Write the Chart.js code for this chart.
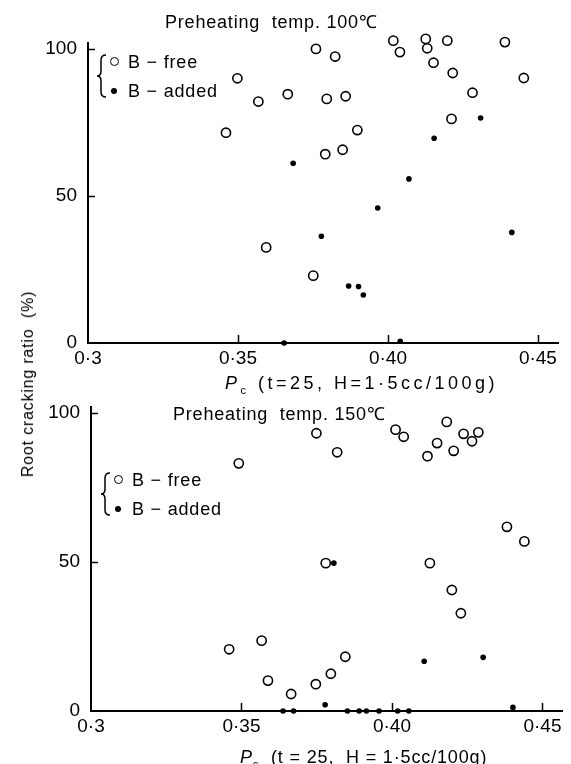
<!DOCTYPE html>
<html><head><meta charset="utf-8">
<script src="https://cdn.jsdelivr.net/npm/chart.js@4/dist/chart.umd.min.js"></script>
<style>
html,body{margin:0;padding:0;background:#fff;}
body{width:571px;height:764px;position:relative;overflow:hidden;font-family:"Liberation Sans",Arial,sans-serif;color:#000;}
canvas{position:absolute;left:0;}
.t{position:absolute;white-space:nowrap;font-size:18px;line-height:1;letter-spacing:0.8px;}
.xt{letter-spacing:3.5px;}
.mk{display:inline-block;width:7px;height:7px;border:1.6px solid #000;border-radius:50%;box-sizing:content-box;vertical-align:middle;margin-right:9px;}
.mk.f{width:6px;height:6px;border:none;background:#000;margin-left:1px;margin-right:11px;}
.row{height:29px;display:flex;align-items:center;}
</style></head><body>
<canvas id="c1" width="571" height="382" style="top:0"></canvas>
<canvas id="c2" width="571" height="382" style="top:382px"></canvas>

<div class="t" style="left:165px;top:13px;">Preheating&nbsp; temp. 100℃</div>
<div class="t" style="left:173px;top:405px;">Preheating&nbsp; temp. 150℃</div>

<div class="t xt" style="left:225px;top:374px;"><i>P</i><sub style="font-size:11px">c</sub>&nbsp;(t=25,&nbsp;H=1·5cc/100g)</div>
<div class="t" style="left:240px;top:748px;letter-spacing:0.85px;"><i>P</i><sub style="font-size:11px">c</sub>&nbsp; (t = 25,&nbsp; H = 1·5cc/100g)</div>

<div class="t" style="left:28px;top:384px;font-size:16px;transform:translate(-50%,-50%) rotate(-90deg);">Root cracking ratio&nbsp; (%)</div>

<svg style="position:absolute;left:96px;top:53px" width="14" height="46"><path d="M10 2 Q5 2 5 7 L5 18 Q5 23 1 23 Q5 23 5 28 L5 39 Q5 44 10 44" fill="none" stroke="#000" stroke-width="1.5"/></svg>
<div class="t" style="left:110px;top:47px;">
<div class="row"><span class="mk"></span>B − free</div>
<div class="row"><span class="mk f"></span>B − added</div>
</div>
<svg style="position:absolute;left:100px;top:471px" width="14" height="46"><path d="M10 2 Q5 2 5 7 L5 18 Q5 23 1 23 Q5 23 5 28 L5 39 Q5 44 10 44" fill="none" stroke="#000" stroke-width="1.5"/></svg>
<div class="t" style="left:114px;top:465px;">
<div class="row"><span class="mk"></span>B − free</div>
<div class="row"><span class="mk f"></span>B − added</div>
</div>

<script>
// ---- data ----
const xTickValues = [0.30, 0.35, 0.40, 0.45];
const xTickLabels = ['0·3', '0·35', '0·40', '0·45'];
const yTickValues = [0, 50, 100];
const yTickLabels = ['0', '50', '100'];

// Preheating 100 °C
const t100FreeX = [0.376,0.3824,0.4018,0.404,0.4126,0.4131,0.4198,0.439,0.4152,0.4216,0.3498,0.4453,0.3568,0.3666,0.3796,0.3859,0.4282,0.4212,0.346,0.3898,0.3791,0.3849,0.3594,0.3751];
const t100FreeY = [100,97.4,102.8,98.9,103.4,100.2,102.8,102.3,95.3,91.8,90.0,90.1,82.1,84.6,83.0,83.9,85.1,76.2,71.5,72.4,64.2,65.7,32.5,22.9];
const t100AddedX = [0.4309,0.4154,0.3684,0.407,0.3966,0.3778,0.4413,0.3869,0.3902,0.3918,0.3654,0.4041];
const t100AddedY = [76.5,69.6,61.1,55.8,45.9,36.3,37.6,19.4,19.2,16.3,0,0.6];

// Preheating 150 °C
const t150FreeX = [0.3749,0.3818,0.3491,0.4012,0.4039,0.4182,0.415,0.4118,0.4205,0.4238,0.4266,0.4287,0.4382,0.444,0.378,0.4126,0.4199,0.4229,0.3459,0.3567,0.3588,0.3665,0.3747,0.3797,0.3845];
const t150FreeY = [93.2,86.8,83.1,94.4,92.0,97.0,89.9,85.5,87.3,93.0,90.5,93.5,61.8,56.9,49.6,49.6,40.6,32.8,20.7,23.6,10.2,5.7,9.0,12.5,18.2];
const t150AddedX = [0.3807,0.4107,0.4303,0.3778,0.3638,0.3673,0.3852,0.3891,0.3915,0.3957,0.4019,0.4056,0.4402];
const t150AddedY = [49.6,16.7,18.0,2.1,0,0,0,0,0,0,0,0,1.2];

const zip = (xs, ys) => xs.map((x, i) => ({x, y: ys[i]}));

const inwardTicks = {
  id: 'inwardTicks',
  afterDatasetsDraw(chart) {
    const {ctx, scales: {x, y}} = chart;
    ctx.save();
    ctx.strokeStyle = '#000';
    ctx.lineWidth = 1.5;
    ctx.beginPath();
    xTickValues.slice(1).forEach(v => {
      const px = Math.round(x.getPixelForValue(v)) + 0.5;
      ctx.moveTo(px, y.bottom); ctx.lineTo(px, y.bottom - 8);
    });
    yTickValues.slice(1).forEach(v => {
      const py = Math.round(y.getPixelForValue(v)) + 0.5;
      ctx.moveTo(x.left, py); ctx.lineTo(x.left + 7, py);
    });
    ctx.stroke();
    ctx.restore();
  }
};

function makeChart(id, free, added, geo, xmax) {
  return new Chart(document.getElementById(id), {
    type: 'scatter',
    data: {
      datasets: [
        {label: 'B-free', data: free, pointStyle: 'circle', pointRadius: 4.6, pointBorderWidth: 1.6,
         borderColor: '#000', backgroundColor: 'rgba(0,0,0,0)', pointBackgroundColor: 'rgba(0,0,0,0)', clip: false},
        {label: 'B-added', data: added, pointStyle: 'circle', pointRadius: 2.8, pointBorderWidth: 0,
         borderColor: '#000', backgroundColor: '#000', pointBackgroundColor: '#000', clip: false}
      ]
    },
    options: {
      responsive: false,
      animation: false,
      events: [],
      layout: {padding: {left: 0, bottom: 0, right: geo.right, top: geo.top}},
      plugins: {legend: {display: false}, tooltip: {enabled: false}},
      scales: {
        x: {
          type: 'linear', min: 0.3, max: xmax,
          afterFit: s => { s.height = geo.bottom; },
          afterBuildTicks: s => { s.ticks = xTickValues.map(v => ({value: v})); },
          grid: {display: false, drawTicks: false},
          border: {display: true, color: '#000', width: 2},
          ticks: {
            padding: 4, color: '#000', maxRotation: 0, autoSkip: false,
            font: {family: '"Liberation Sans", Arial, sans-serif', size: 19},
            callback: (v) => { const i = xTickValues.findIndex(t => Math.abs(t - v) < 1e-6); return i >= 0 ? xTickLabels[i] : ''; }
          }
        },
        y: {
          type: 'linear', min: 0, max: 102,
          afterFit: s => { s.width = geo.left; },
          afterBuildTicks: s => { s.ticks = yTickValues.map(v => ({value: v})); },
          grid: {display: false, drawTicks: false},
          border: {display: true, color: '#000', width: 2},
          ticks: {
            padding: 11, color: '#000', autoSkip: false,
            font: {family: '"Liberation Sans", Arial, sans-serif', size: 19},
            callback: (v) => { const i = yTickValues.indexOf(v); return i >= 0 ? yTickLabels[i] : ''; }
          }
        }
      }
    },
    plugins: [inwardTicks]
  });
}

makeChart('c1', zip(t100FreeX, t100FreeY), zip(t100AddedX, t100AddedY), {left: 88, right: 13, top: 43, bottom: 39}, 0.4567);
makeChart('c2', zip(t150FreeX, t150FreeY), zip(t150AddedX, t150AddedY), {left: 91, right: 9, top: 25, bottom: 53}, 0.4565);
</script>
</body></html>
